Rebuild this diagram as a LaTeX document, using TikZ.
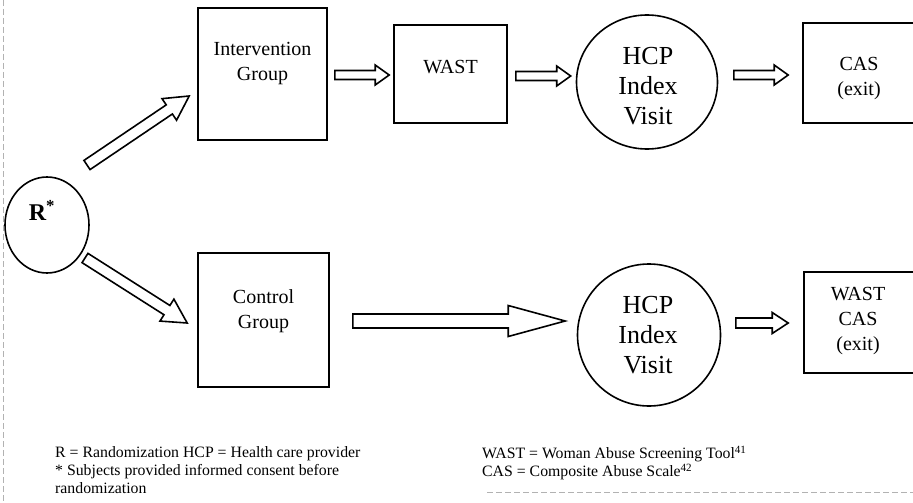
\documentclass[tikz,border=0pt]{standalone}
\usepackage{fontspec}
\setmainfont{Liberation Serif}
\usetikzlibrary{calc,shapes.geometric}
\tikzset{
  boxnode/.style={draw, line width=1.6pt, inner sep=0pt},
  circnode/.style={draw, ellipse, line width=1.6pt, inner sep=0pt},
  boxtext/.style={align=center, inner sep=0pt, font=\fontsize{20}{25}\selectfont},
  circtext/.style={align=center, inner sep=0pt, font=\fontsize{26}{30}\selectfont},
  legend/.style={align=left, inner sep=0pt, anchor=north west, font=\fontsize{15.8}{18}\selectfont},
  barrowline/.style={draw, fill=white, line width=1.6pt, line join=miter},
  scanline/.style={gray!60, line width=0.5pt, dash pattern=on 6pt off 3pt}
}
% #1 start, #2 end, #3 shaft half width, #4 head half width, #5 head length
\newcommand{\blockarrow}[5]{%
  \path let \p1=(#1), \p2=(#2) in \pgfextra{%
    \pgfmathsetmacro\baA{atan2(\y2-\y1,\x2-\x1)}%
    \pgfmathsetmacro\baL{veclen(\x2-\x1,\y2-\y1)}%
    \global\let\baAg\baA \global\let\baLg\baL};
  \draw[barrowline, shift={(#1)}, rotate=\baAg]
    (0pt,-#3pt) -- ({\baLg pt-#5pt},-#3pt) -- ({\baLg pt-#5pt},-#4pt) --
    ({\baLg pt},0pt) -- ({\baLg pt-#5pt},#4pt) -- ({\baLg pt-#5pt},#3pt) --
    (0pt,#3pt) -- cycle;
}
\begin{document}
\begin{tikzpicture}[x=1pt,y=-1pt]
\useasboundingbox (0,0) rectangle (913,503);
\fill[white] (0,0) rectangle (913,503);

% scan edge lines
\draw[scanline] (3,0) -- (3,503);
\draw[scanline] (487,492) -- (913,492);

% nodes
\node[circnode, minimum width=84, minimum height=96] (R) at (47,225) {};
\node[inner sep=0pt, font=\fontsize{24}{28}\selectfont\bfseries] (Rt) at (42,210) {R\textsuperscript{*}};

\node[boxnode, minimum width=129, minimum height=132] (ig) at (262.5,74) {};
\node[boxtext] (igt) at ($(ig.center)+(0,-10)$) {Intervention\\Group};

\node[boxnode, minimum width=113, minimum height=98] (wast) at (450.5,74) {};
\node[boxtext] (wastt) at ($(wast.center)+(0,-7)$) {WAST};

\node[circnode, minimum width=141, minimum height=134] (hcp1) at (647,82) {};
\node[circtext] (hcp1t) at ($(hcp1.center)+(1,4)$) {HCP\\Index\\Visit};

\node[boxnode, minimum width=117, minimum height=100] (cas) at (861.5,73) {};
\node[boxtext] (cast) at (859,79) {CAS\\(exit)};

\node[boxnode, minimum width=131, minimum height=134] (cg) at (263.5,320) {};
\node[boxtext] (cgt) at ($(cg.center)+(0,-9)$) {Control\\Group};

\node[circnode, minimum width=143, minimum height=142] (hcp2) at (649,335) {};
\node[circtext] (hcp2t) at ($(hcp2.center)+(-1,0)$) {HCP\\Index\\Visit};

\node[boxnode, minimum width=116, minimum height=101] (wc) at (862,322.5) {};
\node[boxtext] (wct) at (858,321) {WAST\\CAS\\(exit)};

% arrow end points
\coordinate (d1s) at ($(R.center)+(40,-60)$);
\coordinate (d1e) at ($(ig.west)+(-8,22)$);
\coordinate (d2s) at ($(R.center)+(38,33)$);
\coordinate (d2e) at ($(cg.west)+(-10,3)$);
\coordinate (a1s) at ($(ig.east)+(7,1)$);
\coordinate (a1e) at ($(wast.west)+(-4,1)$);
\coordinate (a2s) at ($(wast.east)+(8,2)$);
\coordinate (a2e) at ($(hcp1.west)+(-5,-6)$);
\coordinate (a3s) at ($(hcp1.east)+(15.5,-7)$);
\coordinate (a3e) at ($(cas.west)+(-14,2)$);
\coordinate (a4s) at ($(cg.east)+(23,1)$);
\coordinate (a4e) at ($(hcp2.west)+(-11.5,-14)$);
\coordinate (a5s) at ($(hcp2.east)+(14.5,-12)$);
\coordinate (a5e) at ($(wc.west)+(-15,0.5)$);

% block arrows
\blockarrow{d1s}{d1e}{5.5}{13}{24}
\blockarrow{d2s}{d2e}{5.5}{13}{24}
\blockarrow{a1s}{a1e}{4.5}{10}{14}
\blockarrow{a2s}{a2e}{4.5}{10}{14}
\blockarrow{a3s}{a3e}{4.5}{10}{14}
\blockarrow{a4s}{a4e}{7}{15.5}{57}
\blockarrow{a5s}{a5e}{5}{10.5}{16}

% legends
\node[legend] (legL) at (55,446) {R = Randomization HCP = Health care provider\\
* Subjects provided informed consent before\\randomization};
\node[legend] (legR) at (482,446) {WAST = Woman Abuse Screening Tool\textsuperscript{41}\\
CAS = Composite Abuse Scale\textsuperscript{42}};
\end{tikzpicture}
\end{document}
